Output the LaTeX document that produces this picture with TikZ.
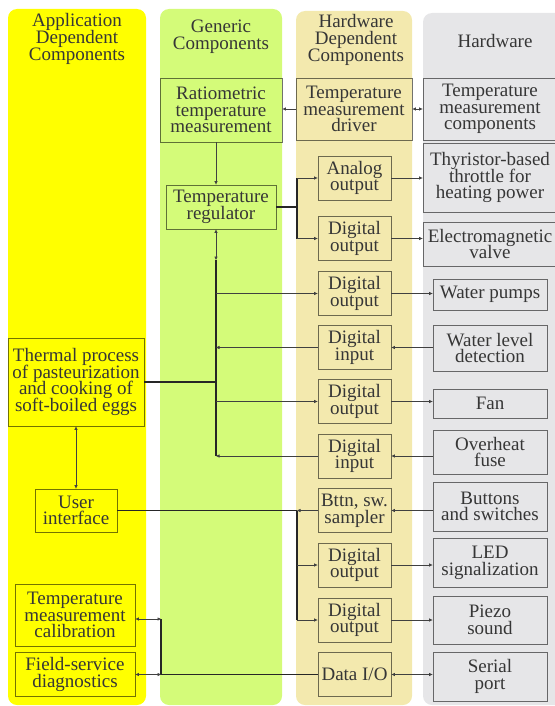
\documentclass[tikz,border=0pt]{standalone}
\usepackage{fontspec}
\setmainfont{Liberation Serif}
\usepackage{tikz}
\usetikzlibrary{arrows.meta}
\usepackage{xcolor}
\definecolor{appY}{HTML}{FFFF00}
\definecolor{genG}{HTML}{D4FB79}
\definecolor{hwdK}{HTML}{F3E9AE}
\definecolor{hwG}{HTML}{E6E6E8}
\definecolor{ink}{HTML}{363636}
\lineskiplimit=-30pt

\begin{document}
\begin{tikzpicture}[x=1pt,y=-1pt,
    >={Triangle[length=3.5pt,width=3pt]},
    every node/.style={text=ink,align=center,inner sep=0pt,
      font=\fontsize{19}{16.7}\selectfont},
    blk/.style={draw=black,draw opacity=0.55,line width=0.8pt,fill=#1,
      minimum width=73pt,minimum height=44pt},
    ln/.style={draw=black!75,line width=0.7pt},
    bus/.style={draw=black!85,line width=1.5pt}]

  \useasboundingbox (0,0) rectangle (554,706);

  % 背景
  \fill[appY,rounded corners=9pt] (8,9) rectangle (146,705);
  \fill[genG,rounded corners=9pt] (160,9) rectangle (282,705);
  \fill[hwdK,rounded corners=9pt] (296,11) rectangle (412,705);
  \fill[hwG,rounded corners=9pt] (423,13) rectangle (575,705);

  % 見出し
  \node (hApp) at (77,39) {Application\\Dependent\\Components};
  \node (hGen) at (221,37) {Generic\\Components};
  \node (hHwd) at (356,40) {Hardware\\Dependent\\Components};
  \node (hHw) at (495,41) {Hardware};

  % アプリケーション
  \node[blk=appY,minimum width=136pt,minimum height=88pt] (thermal) at (76,382)
    {Thermal process\\of pasteurization\\and cooking of\\soft-boiled eggs};
  \node[blk=appY,minimum width=82pt,minimum height=43pt] (ui) at (76,510.5) {User\\interface};
  \node[blk=appY,minimum width=120pt,minimum height=62pt] (calib) at (75,615)
    {Temperature\\measurement\\calibration};
  \node[blk=appY,minimum width=120pt,minimum height=44pt] (diag) at (75,674.5)
    {Field-service\\diagnostics};

  % 汎用
  \node[blk=genG,minimum width=122pt,minimum height=64pt] (ratio) at (221,110)
    {Ratiometric\\temperature\\measurement};
  \node[blk=genG,minimum width=110pt] (regul) at (221,207) {Temperature\\regulator};

  % ハードウェア依存
  \node[blk=hwdK,minimum width=116pt,minimum height=62pt] (driver) at (354,109)
    {Temperature\\measurement\\driver};
  \node[blk=hwdK] (analog) at (354.5,178) {Analog\\output};
  \node[blk=hwdK] (dout1) at (354.5,238.5) {Digital\\output};
  \node[blk=hwdK] (dout2) at (354.5,293.5) {Digital\\output};
  \node[blk=hwdK] (din1) at (354.5,347.5) {Digital\\input};
  \node[blk=hwdK] (dout3) at (354.5,401.5) {Digital\\output};
  \node[blk=hwdK] (din2) at (354.5,456) {Digital\\input};
  \node[blk=hwdK] (smpl) at (354.5,510.5) {Bttn, sw.\\sampler};
  \node[blk=hwdK] (dout4) at (354.5,565) {Digital\\output};
  \node[blk=hwdK] (dout5) at (354.5,620) {Digital\\output};
  \node[blk=hwdK] (dataio) at (354.5,674.5) {Data I/O};

  % ハードウェア
  \node[blk=hwG,minimum width=134pt,minimum height=62pt] (comps) at (490,109)
    {Temperature\\measurement\\components};
  \node[blk=hwG,minimum width=134pt,minimum height=69pt] (thyr) at (490,177.5)
    {Thyristor-based\\throttle for\\heating power};
  \node[blk=hwG,minimum width=134pt] (valve) at (490,244) {Electromagnetic\\valve};
  \node[blk=hwG,minimum width=114pt,minimum height=31pt] (pumps) at (490,294.5) {Water pumps};
  \node[blk=hwG,minimum width=114pt,minimum height=46pt] (level) at (490,348) {Water level\\detection};
  \node[blk=hwG,minimum width=114pt,minimum height=29pt] (fan) at (490,403.5) {Fan};
  \node[blk=hwG,minimum width=114pt] (fuse) at (490,452) {Overheat\\fuse};
  \node[blk=hwG,minimum width=114pt,minimum height=49pt] (buttons) at (490,506.5) {Buttons\\and switches};
  \node[blk=hwG,minimum width=114pt,minimum height=49pt] (led) at (490,562.5) {LED\\signalization};
  \node[blk=hwG,minimum width=114pt,minimum height=48pt] (piezo) at (490,620) {Piezo\\sound};
  \node[blk=hwG,minimum width=114pt,minimum height=49pt] (serial) at (490,676.5) {Serial\\port};

  % 分岐点
  \coordinate (bt) at (216,260);
  \coordinate (hb) at (297,0);
  \coordinate (db) at (161,0);
  \coordinate (cal) at ([yshift=-4pt]calib.east);

  % 温度計測
  \draw[ln,->] (ratio.south -| bt) -- (regul.north -| bt);
  \draw[ln,->] (driver.west) -- (driver.west -| ratio.east);
  \draw[ln,<->] (driver.east) -- (driver.east -| comps.west);

  % 加熱
  \draw[bus] (regul.east) -- (regul.east -| hb);
  \draw[bus] (hb |- analog) -- (hb |- dout1);
  \draw[ln,->] (hb |- analog) -- (analog.west);
  \draw[ln,->] (hb |- dout1) -- (dout1.west);
  \draw[ln,->] (analog.east) -- (analog.east -| thyr.west);
  \draw[ln,->] (dout1.east) -- (dout1.east -| valve.west);

  % プロセス
  \draw[ln,<->] (regul.south -| bt) -- (bt);
  \draw[bus] (bt) -- (bt |- din2);
  \draw[bus] (thermal.east) -- (thermal.east -| bt);
  \draw[ln,->] (bt |- dout2) -- (dout2.west);
  \draw[ln,<-] (bt |- din1) -- (din1.west);
  \draw[ln,->] (bt |- dout3) -- (dout3.west);
  \draw[ln,<-] (bt |- din2) -- (din2.west);
  \draw[ln,->] (dout2.east) -- (dout2.east -| pumps.west);
  \draw[ln,->] (level.west |- din1) -- (din1.east);
  \draw[ln,->] (dout3.east) -- (dout3.east -| fan.west);
  \draw[ln,->] (fuse.west |- din2) -- (din2.east);

  % ユーザインタフェース
  \draw[ln,<->] (thermal.south) -- (ui.north);
  \draw[bus] (ui.east) -- (ui.east -| hb);
  \draw[ln,<-] (hb |- smpl) -- (smpl.west);
  \draw[bus] (hb |- smpl) -- (hb |- dout5);
  \draw[ln,->] (hb |- dout4) -- (dout4.west);
  \draw[ln,->] (hb |- dout5) -- (dout5.west);
  \draw[ln,->] (buttons.west |- smpl) -- (smpl.east);
  \draw[ln,->] (dout4.east) -- (dout4.east -| led.west);
  \draw[ln,->] (dout5.east) -- (dout5.east -| piezo.west);

  % 通信
  \draw[ln,<->] (dataio.east) -- (dataio.east -| serial.west);
  \draw[bus] (dataio.west) -- (dataio.west -| db) -- (db |- cal);
  \draw[ln,<->] (cal) -- (cal -| db);
  \draw[ln,<->] (diag.east) -- (diag.east -| db);
\end{tikzpicture}
\end{document}
